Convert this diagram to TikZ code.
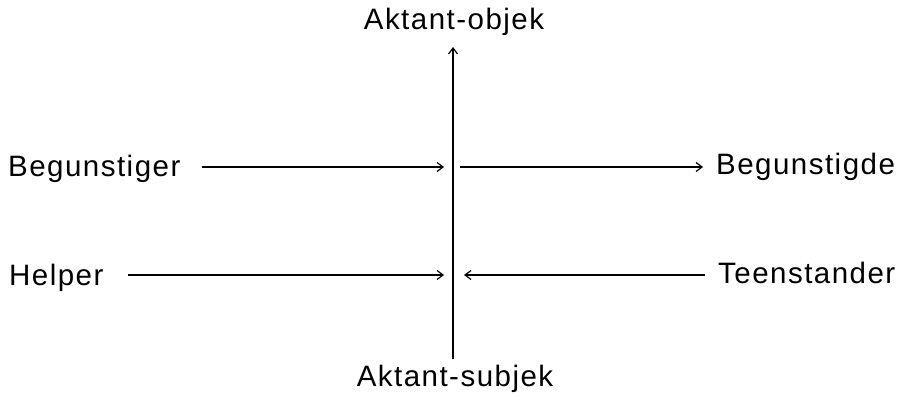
\documentclass[tikz,border=0pt]{standalone}
\usepackage{fontspec}
\setmainfont{Liberation Sans}[LetterSpace=5]
\usetikzlibrary{arrows.meta}
\begin{document}
\begin{tikzpicture}[x=1pt,y=1pt,
  lbl/.style={inner sep=0pt,font=\fontsize{29.5}{34}\selectfont},
  tip/.style={-{Straight Barb[length=6pt,width=9pt,line width=1.2pt]}},
  hline/.style={line width=1.3pt,tip},
  axis/.style={line width=2.4pt}]
\useasboundingbox (0,-398) rectangle (902,0);
% axis
\coordinate (axb) at (453,-359);
\coordinate (axm) at (453,-58);
\coordinate (axt) at (453,-47);
\node[lbl,anchor=base] (obj) at (454,-30) {Aktant-objek};
\node[lbl,anchor=base] (subj) at (455,-386) {Aktant-subjek};
\draw[axis] (axb) -- (axm);
\draw[line width=1.3pt,tip] ([yshift=-4pt]axm) -- (axt);
% labels
\node[lbl,anchor=base west] (beg) at (8,-177) {Begunstiger};
\node[lbl,anchor=base west] (begd) at (716,-175) {Begunstigde};
\node[lbl,anchor=base west] (help) at (9,-285) {Helper};
\node[lbl,anchor=base west] (teen) at (718,-283) {Teenstander};
% arrow ends
\coordinate (a1s) at (202,-167);
\coordinate (a1e) at (444,-167);
\coordinate (a2s) at (460,-167);
\coordinate (a2e) at (703,-167);
\coordinate (a3s) at (128,-275);
\coordinate (a3e) at (444,-275);
\coordinate (a4s) at (705,-275);
\coordinate (a4e) at (464,-275);
\draw[hline] (a1s) -- (a1e);
\draw[hline] (a2s) -- (a2e);
\draw[hline] (a3s) -- (a3e);
\draw[hline] (a4s) -- (a4e);
\end{tikzpicture}
\end{document}
